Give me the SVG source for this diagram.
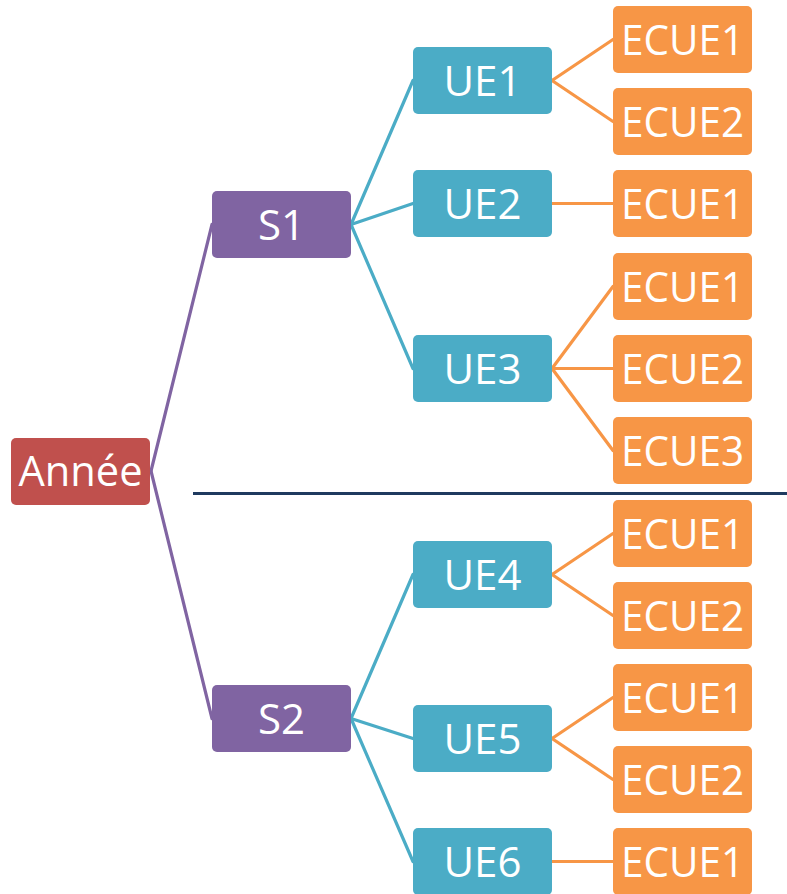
<svg xmlns="http://www.w3.org/2000/svg" width="787" height="894" viewBox="0 0 787 894">
<style>
.n rect{stroke:none}
.a rect{fill:#C0504D}
.s rect{fill:#8064A2}
.u rect{fill:#4BACC6}
.e rect{fill:#F79646}
text{font-family:"Open Sans","Noto Sans",sans-serif;font-size:42px;fill:#fff;text-anchor:middle}
.c line{stroke-width:3.2;stroke-linecap:round}
.cp line{stroke:#8064A2}
.cb line{stroke:#4BACC6}
.co line{stroke:#F79646}
</style>
<rect width="787" height="894" fill="#fff"/>
<g id="connectors" class="c">
<g class="cp">
<line x1="151" y1="471" x2="212" y2="224.5"/>
<line x1="151" y1="471" x2="212" y2="718.5"/>
</g>
<g class="cb">
<line x1="351" y1="224.5" x2="413" y2="80.5"/>
<line x1="351" y1="224.5" x2="413" y2="203.5"/>
<line x1="351" y1="224.5" x2="413" y2="368.5"/>
<line x1="351" y1="718.5" x2="413" y2="574.5"/>
<line x1="351" y1="718.5" x2="413" y2="738.5"/>
<line x1="351" y1="718.5" x2="413" y2="861.5"/>
</g>
<g class="co">
<line x1="552" y1="80.5" x2="613" y2="39.5"/>
<line x1="552" y1="80.5" x2="613" y2="121.5"/>
<line x1="552" y1="203.5" x2="613" y2="203.5"/>
<line x1="552" y1="368.5" x2="613" y2="286.5"/>
<line x1="552" y1="368.5" x2="613" y2="368.5"/>
<line x1="552" y1="368.5" x2="613" y2="450.5"/>
<line x1="552" y1="574.5" x2="613" y2="533.5"/>
<line x1="552" y1="574.5" x2="613" y2="615.5"/>
<line x1="552" y1="738.5" x2="613" y2="697.5"/>
<line x1="552" y1="738.5" x2="613" y2="779.5"/>
<line x1="552" y1="861.5" x2="613" y2="861.5"/>
</g>
</g>
<line id="separator" x1="193" y1="493.5" x2="787" y2="493.5" stroke="#1F3A5F" stroke-width="3"/>
<g id="annee" class="n a"><rect x="11" y="438" width="139" height="67" rx="5"/><text x="80.5" y="486" textLength="124" lengthAdjust="spacingAndGlyphs">Année</text></g>
<g id="s1" class="n s"><rect x="212" y="191" width="139" height="67" rx="5"/><text x="281.5" y="239.5">S1</text></g>
<g id="s2" class="n s"><rect x="212" y="685" width="139" height="67" rx="5"/><text x="281.5" y="733.5">S2</text></g>
<g id="ue1" class="n u"><rect x="413" y="47" width="139" height="67" rx="5"/><text x="482.5" y="95.5">UE1</text></g>
<g id="ue2" class="n u"><rect x="413" y="170" width="139" height="67" rx="5"/><text x="482.5" y="218.5">UE2</text></g>
<g id="ue3" class="n u"><rect x="413" y="335" width="139" height="67" rx="5"/><text x="482.5" y="383.5">UE3</text></g>
<g id="ue4" class="n u"><rect x="413" y="541" width="139" height="67" rx="5"/><text x="482.5" y="589.5">UE4</text></g>
<g id="ue5" class="n u"><rect x="413" y="705" width="139" height="67" rx="5"/><text x="482.5" y="753.5">UE5</text></g>
<g id="ue6" class="n u"><rect x="413" y="828" width="139" height="67" rx="5"/><text x="482.5" y="876.5">UE6</text></g>
<g id="ue1-ecue1" class="n e"><rect x="613" y="6" width="139" height="67" rx="5"/><text x="682.5" y="54.5" textLength="123" lengthAdjust="spacingAndGlyphs">ECUE1</text></g>
<g id="ue1-ecue2" class="n e"><rect x="613" y="88" width="139" height="67" rx="5"/><text x="682.5" y="136.5" textLength="123" lengthAdjust="spacingAndGlyphs">ECUE2</text></g>
<g id="ue2-ecue1" class="n e"><rect x="613" y="170" width="139" height="67" rx="5"/><text x="682.5" y="218.5" textLength="123" lengthAdjust="spacingAndGlyphs">ECUE1</text></g>
<g id="ue3-ecue1" class="n e"><rect x="613" y="253" width="139" height="67" rx="5"/><text x="682.5" y="301.5" textLength="123" lengthAdjust="spacingAndGlyphs">ECUE1</text></g>
<g id="ue3-ecue2" class="n e"><rect x="613" y="335" width="139" height="67" rx="5"/><text x="682.5" y="383.5" textLength="123" lengthAdjust="spacingAndGlyphs">ECUE2</text></g>
<g id="ue3-ecue3" class="n e"><rect x="613" y="417" width="139" height="67" rx="5"/><text x="682.5" y="465.5" textLength="123" lengthAdjust="spacingAndGlyphs">ECUE3</text></g>
<g id="ue4-ecue1" class="n e"><rect x="613" y="500" width="139" height="67" rx="5"/><text x="682.5" y="548.5" textLength="123" lengthAdjust="spacingAndGlyphs">ECUE1</text></g>
<g id="ue4-ecue2" class="n e"><rect x="613" y="582" width="139" height="67" rx="5"/><text x="682.5" y="630.5" textLength="123" lengthAdjust="spacingAndGlyphs">ECUE2</text></g>
<g id="ue5-ecue1" class="n e"><rect x="613" y="664" width="139" height="67" rx="5"/><text x="682.5" y="712.5" textLength="123" lengthAdjust="spacingAndGlyphs">ECUE1</text></g>
<g id="ue5-ecue2" class="n e"><rect x="613" y="746" width="139" height="67" rx="5"/><text x="682.5" y="794.5" textLength="123" lengthAdjust="spacingAndGlyphs">ECUE2</text></g>
<g id="ue6-ecue1" class="n e"><rect x="613" y="828" width="139" height="67" rx="5"/><text x="682.5" y="876.5" textLength="123" lengthAdjust="spacingAndGlyphs">ECUE1</text></g>
</svg>
